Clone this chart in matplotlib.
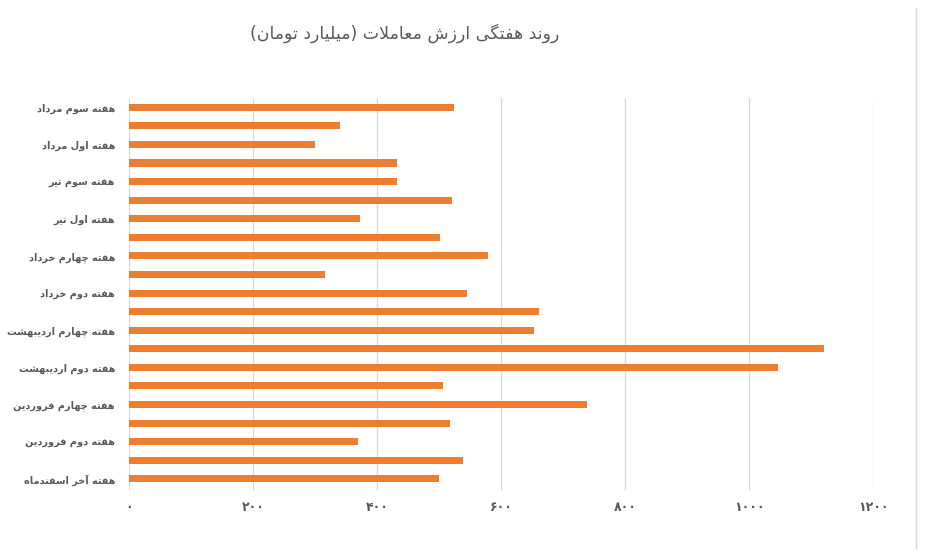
import matplotlib
matplotlib.use("Agg")
import matplotlib.pyplot as plt
from matplotlib.lines import Line2D

# weekly trade value (billion toman), bottom -> top
weeks = [
    "هفته آخر اسفندماه", "هفته اول فروردین", "هفته دوم فروردین", "هفته سوم فروردین",
    "هفته چهارم فروردین", "هفته اول اردیبهشت", "هفته دوم اردیبهشت", "هفته سوم اردیبهشت",
    "هفته چهارم اردیبهشت", "هفته اول خرداد", "هفته دوم خرداد", "هفته سوم خرداد",
    "هفته چهارم خرداد", "هفته پنجم خرداد", "هفته اول تیر", "هفته دوم تیر",
    "هفته سوم تیر", "هفته چهارم تیر", "هفته اول مرداد", "هفته دوم مرداد",
    "هفته سوم مرداد",
]
values = [500, 539, 369, 518, 738, 506, 1046, 1121, 654, 661, 545,
          316, 579, 502, 372, 521, 433, 433, 300, 340, 524]
x_ticks = [0, 200, 400, 600, 800, 1000, 1200]
title = "روند هفتگی ارزش معاملات (میلیارد تومان)"

# minimal Persian shaping: letter -> (isolated, final, initial, medial)
FORMS = {
    "ا": (0xFE8D, 0xFE8E, None, None), "آ": (0xFE81, 0xFE82, None, None),
    "ب": (0xFE8F, 0xFE90, 0xFE91, 0xFE92), "پ": (0xFB56, 0xFB57, 0xFB58, 0xFB59),
    "ت": (0xFE95, 0xFE96, 0xFE97, 0xFE98), "خ": (0xFEA5, 0xFEA6, 0xFEA7, 0xFEA8),
    "چ": (0xFB7A, 0xFB7B, 0xFB7C, 0xFB7D), "د": (0xFEA9, 0xFEAA, None, None),
    "ر": (0xFEAD, 0xFEAE, None, None), "ز": (0xFEAF, 0xFEB0, None, None),
    "س": (0xFEB1, 0xFEB2, 0xFEB3, 0xFEB4), "ش": (0xFEB5, 0xFEB6, 0xFEB7, 0xFEB8),
    "ع": (0xFEC9, 0xFECA, 0xFECB, 0xFECC), "ف": (0xFED1, 0xFED2, 0xFED3, 0xFED4),
    "گ": (0xFB92, 0xFB93, 0xFB94, 0xFB95), "ل": (0xFEDD, 0xFEDE, 0xFEDF, 0xFEE0),
    "م": (0xFEE1, 0xFEE2, 0xFEE3, 0xFEE4), "ن": (0xFEE5, 0xFEE6, 0xFEE7, 0xFEE8),
    "ه": (0xFEE9, 0xFEEA, 0xFEEB, 0xFEEC), "و": (0xFEED, 0xFEEE, None, None),
    "ی": (0xFBFC, 0xFBFD, 0xFBFE, 0xFBFF),
}


def shape(text):
    out = []
    chars = list(text)
    i = 0
    while i < len(chars):
        c = chars[i]
        if c not in FORMS:
            out.append(c)
            i += 1
            continue
        prev = chars[i - 1] if i > 0 else ""
        joins_prev = prev in FORMS and FORMS[prev][2] is not None
        if c == "ل" and i + 1 < len(chars) and chars[i + 1] == "ا":
            out.append(chr(0xFEFC if joins_prev else 0xFEFB))
            i += 2
            continue
        nxt = chars[i + 1] if i + 1 < len(chars) else ""
        joins_next = FORMS[c][2] is not None and nxt in FORMS
        iso, fin, ini, med = FORMS[c]
        if joins_prev and joins_next:
            code = med
        elif joins_prev:
            code = fin
        elif joins_next:
            code = ini
        else:
            code = iso
        out.append(chr(code))
        i += 1
    vis = "".join(reversed(out))
    return vis.translate(str.maketrans("()", ")("))


def fa_digits(n):
    return str(n).translate(str.maketrans("0123456789", "۰۱۲۳۴۵۶۷۸۹"))


grey = "#595959"
fig = plt.figure(figsize=(9.27, 5.58), dpi=100)
ax = fig.add_axes([129 / 927, 1 - 490 / 558, (873 - 129) / 927, (490 - 98) / 558])

pos = list(range(len(values)))
ax.barh(pos, values, height=0.38, color="#ED7D31", zorder=3)

ax.set_xlim(0, 1200)
ax.set_ylim(-0.6, 20.5)
ax.set_xticks(x_ticks)
ax.set_xticklabels([fa_digits(t) for t in x_ticks], fontsize=9, fontweight="bold", color=grey)
ax.set_yticks(pos[::2])
ax.set_yticklabels([shape(w) for w in weeks[::2]], fontsize=7, fontweight="bold", color=grey)
ax.tick_params(length=0)
ax.tick_params(axis="x", pad=8)
ax.tick_params(axis="y", pad=10)
ax.grid(axis="x", color="#d9d9d9", linewidth=0.9, zorder=0)
for s in ax.spines.values():
    s.set_visible(False)

fig.text(405 / 927, 1 - 33 / 558, shape(title), ha="center", va="center",
         fontsize=12.5, color=grey)
fig.add_artist(Line2D([916 / 927, 916 / 927], [1 - 548 / 558, 1 - 8 / 558],
                      transform=fig.transFigure, color="#d9d9d9", linewidth=1))

fig.savefig("out.png", dpi=100)
